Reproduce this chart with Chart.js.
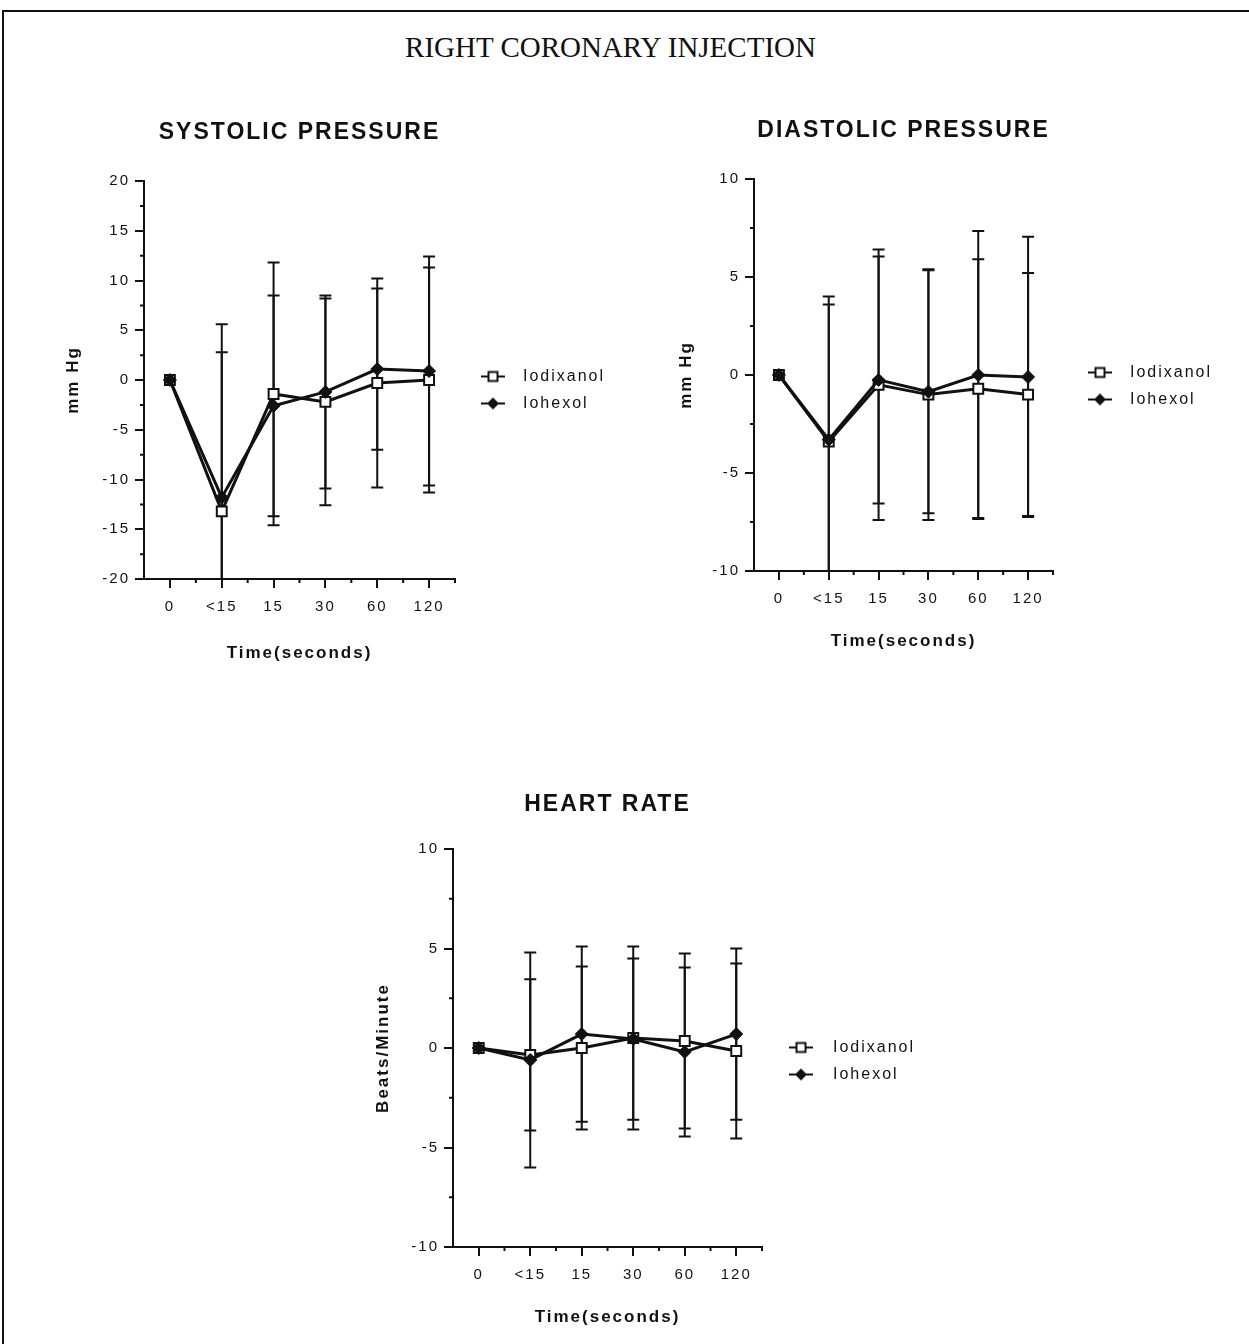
<!DOCTYPE html>
<html>
<head>
<meta charset="utf-8">
<script src="https://cdn.jsdelivr.net/npm/chart.js@4.4.1/dist/chart.umd.min.js"></script>
<style>
html, body { margin: 0; padding: 0; background: #fff; }
body { width: 1249px; height: 1344px; position: relative; overflow: hidden; }
#frame { position: absolute; left: 2px; top: 10px; right: -10px; bottom: -10px; border-top: 2px solid #111; border-left: 2px solid #111; }
#main { position: absolute; left: 0; width: 1221px; top: 33px; text-align: center; font: 29px/29px 'Liberation Serif', 'Times New Roman', serif; color: #111; }
canvas { position: absolute; }
</style>
</head>
<body>
<div id="frame"></div>
<div id="main">RIGHT CORONARY INJECTION</div>
<canvas id="sys"></canvas>
<canvas id="dia"></canvas>
<canvas id="hr"></canvas>
<script>
// ─── DATA ────────────────────────────────────────────────────────────────
const timeLabels = ['0', '<15', '15', '30', '60', '120'];
const seriesNames = ['Iodixanol', 'Iohexol'];

// systolic pressure, change in mm Hg (mean and SD)
const sysIodixanol   = [0, -13.2, -1.4, -2.2, -0.3, 0];
const sysIodixanolSd = [0, 18.8, 13.2, 10.4, 10.5, 11.3];
const sysIohexol     = [0, -11.8, -2.6, -1.2, 1.1, 0.9];
const sysIohexolSd   = [0, 14.6, 11.1, 9.7, 8.1, 11.5];

// diastolic pressure, change in mm Hg
const diaIodixanol   = [0, -3.4, -0.5, -1.0, -0.7, -1.0];
const diaIodixanolSd = [0, 7.4, 6.9, 6.4, 6.6, 6.2];
const diaIohexol     = [0, -3.3, -0.25, -0.85, 0, -0.1];
const diaIohexolSd   = [0, 6.9, 6.3, 6.2, 7.35, 7.15];

// heart rate, change in beats/minute
const hrIodixanol    = [0, -0.35, 0, 0.5, 0.35, -0.15];
const hrIodixanolSd  = [0, 3.8, 4.1, 4.6, 4.4, 4.4];
const hrIohexol      = [0, -0.6, 0.7, 0.45, -0.2, 0.7];
const hrIohexolSd    = [0, 5.4, 4.4, 4.05, 4.25, 4.3];

// ─── STYLE ───────────────────────────────────────────────────────────────
const INK = '#111';
const SPACING = '2px';
const TICK_SIZE = 15, AXIS_TITLE_SIZE = 17, TITLE_SIZE = 23, LEGEND_SIZE = 16, LEGEND_PAD = 11;
Chart.defaults.font.family = "'Liberation Sans', Arial, Helvetica, sans-serif";
Chart.defaults.color = INK;

// natural width Chart.js will give the right-hand legend
function legendWidth(iconW) {
  const m = document.createElement('canvas').getContext('2d');
  m.font = 'normal ' + LEGEND_SIZE + 'px ' + Chart.defaults.font.family;
  m.letterSpacing = SPACING;
  const textW = Math.max(...seriesNames.map(s => m.measureText(s).width));
  return LEGEND_PAD + iconW + LEGEND_SIZE / 2 + textW + 10;
}

// work out paddings so the plot area / titles land where the figure has them
function frame(box, t, iconW) {
  const axHalf = AXIS_TITLE_SIZE * 1.2 / 2;
  const pt = 2 * t.legendY - t.xTitleY - axHalf - 4 - box.y;
  const bottomEdge = t.xTitleY + axHalf + 4 - box.y;
  const rightEdge = t.area[2] - box.x + legendWidth(iconW);
  const titleTop = Math.max(0, t.titleY - box.y - pt - TITLE_SIZE * 0.6);
  return {
    padding: { top: pt, bottom: box.h - bottomEdge, left: 0, right: box.w - rightEdge },
    titlePad: { top: titleTop, bottom: t.area[1] - box.y - pt - TITLE_SIZE * 1.2 - titleTop },
    yTitlePad: t.yTitleX - box.x - axHalf,
    yWidth: t.area[0] - box.x,
    xHeight: bottomEdge - (t.area[3] - box.y)
  };
}

function legendIcon(kind, w, dx) {
  const cv = document.createElement('canvas');
  cv.width = w; cv.height = 16;
  const g = cv.getContext('2d');
  const cx = w / 2 + dx, cy = 8;
  g.strokeStyle = INK; g.lineWidth = 2;
  g.beginPath(); g.moveTo(cx - 12, cy); g.lineTo(cx + 12, cy); g.stroke();
  if (kind === 'square') {
    g.fillStyle = '#fff';
    g.fillRect(cx - 4.5, cy - 4.5, 9, 9);
    g.strokeRect(cx - 4.5, cy - 4.5, 9, 9);
  } else {
    g.fillStyle = INK;
    g.beginPath();
    g.moveTo(cx, cy - 6); g.lineTo(cx + 6, cy); g.lineTo(cx, cy + 6); g.lineTo(cx - 6, cy);
    g.closePath(); g.fill();
  }
  return cv;
}

// ─── PLUGINS ─────────────────────────────────────────────────────────────
const errorBars = {
  id: 'errorBars',
  beforeDatasetsDraw(chart) {
    const { ctx, chartArea: a, scales: { y } } = chart;
    ctx.save();
    ctx.beginPath();
    ctx.rect(a.left, a.top - 1, a.right - a.left, a.bottom - a.top + 2);
    ctx.clip();
    ctx.strokeStyle = INK; ctx.lineWidth = 2;
    chart.data.datasets.forEach((ds, di) => {
      const meta = chart.getDatasetMeta(di);
      ds.data.forEach((v, i) => {
        const sd = ds.sd[i];
        if (!sd) return;
        const x = meta.data[i].x;
        const hi = y.getPixelForValue(v + sd), lo = y.getPixelForValue(v - sd);
        ctx.beginPath();
        ctx.moveTo(x, hi); ctx.lineTo(x, lo);
        ctx.moveTo(x - 6, hi); ctx.lineTo(x + 6, hi);
        ctx.moveTo(x - 6, lo); ctx.lineTo(x + 6, lo);
        ctx.stroke();
      });
    });
    ctx.restore();
  }
};

const minorTicks = {
  id: 'minorTicks',
  afterDraw(chart) {
    const { ctx, chartArea: a, scales: { x, y } } = chart;
    ctx.save();
    ctx.strokeStyle = INK; ctx.lineWidth = 2;
    ctx.beginPath();
    const yt = y.ticks;
    for (let i = 0; i < yt.length - 1; i++) {
      const p = y.getPixelForValue((yt[i].value + yt[i + 1].value) / 2);
      ctx.moveTo(a.left - 4, p); ctx.lineTo(a.left, p);
    }
    const n = x.ticks.length;
    for (let i = 0; i < n; i++) {
      const p = i < n - 1 ? (x.getPixelForTick(i) + x.getPixelForTick(i + 1)) / 2 : a.right;
      ctx.moveTo(p, a.bottom); ctx.lineTo(p, a.bottom + 4);
    }
    ctx.stroke();
    ctx.restore();
  }
};

// the figure's lettering is widely spaced; set it before measuring and drawing
const textSpacing = {
  id: 'textSpacing',
  beforeLayout(chart) { chart.ctx.letterSpacing = SPACING; },
  beforeDraw(chart) { chart.ctx.letterSpacing = SPACING; }
};

// ─── PANELS ──────────────────────────────────────────────────────────────
function axisGrid() {
  return { drawOnChartArea: false, color: INK, lineWidth: 2, tickLength: 9 };
}

function makePanel(id, box, tgt, p) {
  const L = frame(box, tgt, p.iconW);
  const cv = document.getElementById(id);
  cv.width = box.w; cv.height = box.h;
  cv.style.left = box.x + 'px'; cv.style.top = box.y + 'px';
  const icons = [legendIcon('square', p.iconW, p.iconDx), legendIcon('diamond', p.iconW, p.iconDx)];
  return new Chart(cv, {
    type: 'line',
    data: {
      labels: timeLabels,
      datasets: [
        { label: seriesNames[0], data: p.a, sd: p.aSd, order: 1,
          borderColor: INK, borderWidth: 3, tension: 0, fill: false,
          pointStyle: 'rect', pointRadius: 7, pointBorderWidth: 2,
          pointBackgroundColor: '#fff', pointBorderColor: INK },
        { label: seriesNames[1], data: p.b, sd: p.bSd, order: 0,
          borderColor: INK, borderWidth: 3, tension: 0, fill: false,
          pointStyle: 'rectRot', pointRadius: 6.5, pointBorderWidth: 1,
          pointBackgroundColor: INK, pointBorderColor: INK }
      ]
    },
    options: {
      responsive: false, animation: false, events: [],
      layout: { padding: L.padding },
      plugins: {
        title: { display: true, fullSize: false, text: p.title, color: INK, padding: L.titlePad,
                 font: { size: TITLE_SIZE, weight: 'bold' } },
        legend: {
          position: 'right', align: 'center',
          labels: {
            usePointStyle: true, pointStyleWidth: p.iconW, padding: LEGEND_PAD, color: INK,
            font: { size: LEGEND_SIZE },
            sort: (a, b) => a.datasetIndex - b.datasetIndex,
            generateLabels: chart => Chart.defaults.plugins.legend.labels.generateLabels(chart)
              .map(it => Object.assign(it, { pointStyle: icons[it.datasetIndex] }))
          }
        },
        tooltip: { enabled: false }
      },
      scales: {
        x: {
          type: 'category', offset: true,
          grid: Object.assign(axisGrid(), { offset: false }),
          border: { color: INK, width: 2 },
          ticks: { padding: 10, font: { size: TICK_SIZE }, maxRotation: 0, autoSkip: false },
          title: { display: true, text: 'Time(seconds)', font: { size: AXIS_TITLE_SIZE, weight: 'bold' } },
          afterFit: s => { s.height = L.xHeight; }
        },
        y: {
          min: p.min, max: p.max,
          grid: axisGrid(),
          border: { color: INK, width: 2 },
          ticks: { stepSize: 5, padding: 5, font: { size: TICK_SIZE } },
          title: { display: true, text: p.yTitle, padding: { top: L.yTitlePad, bottom: 0 },
                   font: { size: AXIS_TITLE_SIZE, weight: 'bold' } },
          afterFit: s => { s.width = L.yWidth; }
        }
      }
    },
    plugins: [textSpacing, errorBars, minorTicks]
  });
}

makePanel('sys', { x: -80, y: 90, w: 720, h: 600 },
  { area: [144, 181, 455, 579], titleY: 133, legendY: 390, xTitleY: 653, yTitleX: 73 },
  { title: 'SYSTOLIC PRESSURE', yTitle: 'mm Hg', min: -20, max: 20,
    a: sysIodixanol, aSd: sysIodixanolSd, b: sysIohexol, bSd: sysIohexolSd, iconW: 49, iconDx: 2.5 });

makePanel('dia', { x: 520, y: 90, w: 725, h: 600 },
  { area: [754, 179, 1053, 571], titleY: 130, legendY: 386, xTitleY: 641, yTitleX: 686 },
  { title: 'DIASTOLIC PRESSURE', yTitle: 'mm Hg', min: -10, max: 10,
    a: diaIodixanol, aSd: diaIodixanolSd, b: diaIohexol, bSd: diaIohexolSd, iconW: 58, iconDx: 7 });

makePanel('hr', { x: 240, y: 760, w: 705, h: 584 },
  { area: [453, 849, 762, 1247], titleY: 802, legendY: 1061, xTitleY: 1317, yTitleX: 383 },
  { title: 'HEART RATE', yTitle: 'Beats/Minute', min: -10, max: 10,
    a: hrIodixanol, aSd: hrIodixanolSd, b: hrIohexol, bSd: hrIohexolSd, iconW: 52, iconDx: 2 });
</script>
</body>
</html>
